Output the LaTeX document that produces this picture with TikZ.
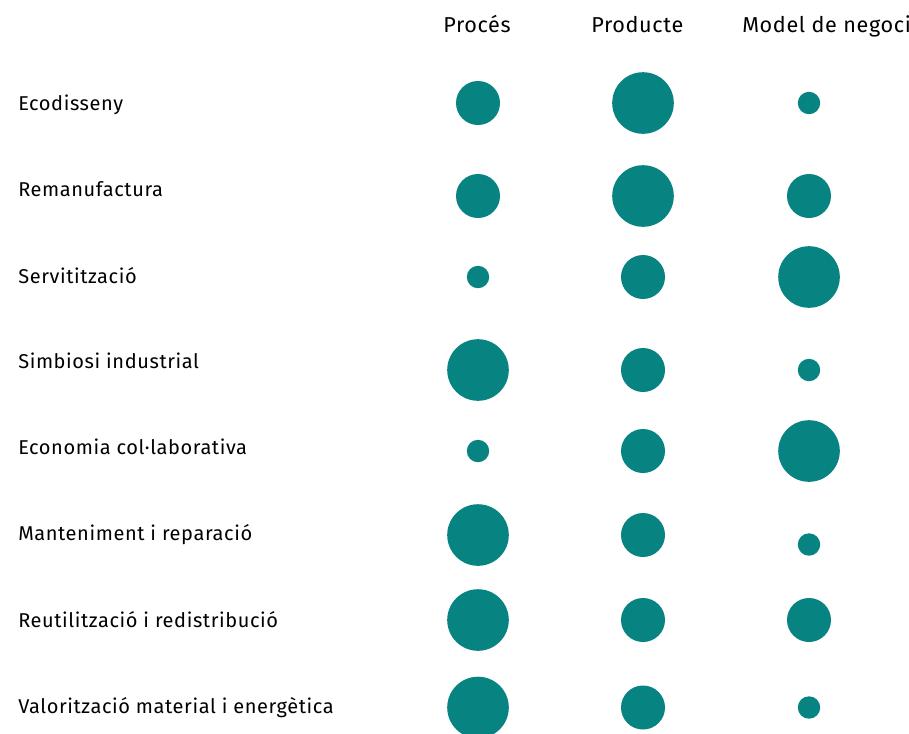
\documentclass[tikz,border=0pt]{standalone}
\usepackage{fontspec}
\setmainfont{Fira Sans}[LetterSpace=3]
\definecolor{dotteal}{RGB}{7,131,129}
\tikzset{
	dot/.style={circle, fill=dotteal, inner sep=0pt},
	bigdot/.style={dot, minimum size=46.2pt},
	middot/.style={dot, minimum size=33pt},
	smalldot/.style={dot, minimum size=16.8pt},
	rowlabel/.style={anchor=base west, inner sep=0pt, font=\fontsize{15}{18}\selectfont},
	colhead/.style={anchor=base west, inner sep=0pt, font=\fontsize{16.2}{19}\selectfont}
}

\begin{document}
\begin{tikzpicture}[x=0.75pt, y=-0.75pt]
			%%%%% START %%%%%
			\useasboundingbox (0, 0) rectangle (909, 733);
			
			\node[colhead] (hproc) at (443, 32.7) {Procés};
			\node[colhead] (hprod) at (591, 32.7) {Producte};
			\node[colhead] (hmodel) at (742, 32.7) {Model de negoci};
			
			\node[rowlabel] (lecod) at (18, 110) {Ecodisseny};
			\node[middot] (ecod-proc) at (478, 103) {};
			\node[bigdot] (ecod-prod) at (643, 103) {};
			\node[smalldot] (ecod-model) at (809, 103) {};
			
			\node[rowlabel] (lreman) at (18, 196.5) {Remanufactura};
			\node[middot] (reman-proc) at (478, 196) {};
			\node[bigdot] (reman-prod) at (643, 196) {};
			\node[middot] (reman-model) at (809, 196) {};
			
			\node[rowlabel] (lserv) at (18, 283) {Servitització};
			\node[smalldot] (serv-proc) at (478, 277) {};
			\node[middot] (serv-prod) at (643, 277) {};
			\node[bigdot] (serv-model) at (809, 277) {};
			
			\node[rowlabel] (lsimb) at (18, 368) {Simbiosi industrial};
			\node[bigdot] (simb-proc) at (478, 370) {};
			\node[middot] (simb-prod) at (643, 370) {};
			\node[smalldot] (simb-model) at (809, 370) {};
			
			\node[rowlabel] (lecon) at (18, 454) {Economia col·laborativa};
			\node[smalldot] (econ-proc) at (478, 451) {};
			\node[middot] (econ-prod) at (643, 451) {};
			\node[bigdot] (econ-model) at (809, 451) {};
			
			\node[rowlabel] (lmant) at (18, 540) {Manteniment i reparació};
			\node[bigdot] (mant-proc) at (478, 535) {};
			\node[middot] (mant-prod) at (643, 535) {};
			\node[smalldot] (mant-model) at (809, 544.5) {};
			
			\node[rowlabel] (lreut) at (18, 627) {Reutilització i redistribució};
			\node[bigdot] (reut-proc) at (478, 620) {};
			\node[middot] (reut-prod) at (643, 620) {};
			\node[middot] (reut-model) at (809, 620) {};
			
			\node[rowlabel] (lval) at (18, 713) {Valorització material i energètica};
			\node[bigdot] (val-proc) at (478, 707.5) {};
			\node[middot] (val-prod) at (643, 707.5) {};
			\node[smalldot] (val-model) at (809, 707.5) {};
			
			%%%%% END %%%%%
		\end{tikzpicture}
\end{document}
